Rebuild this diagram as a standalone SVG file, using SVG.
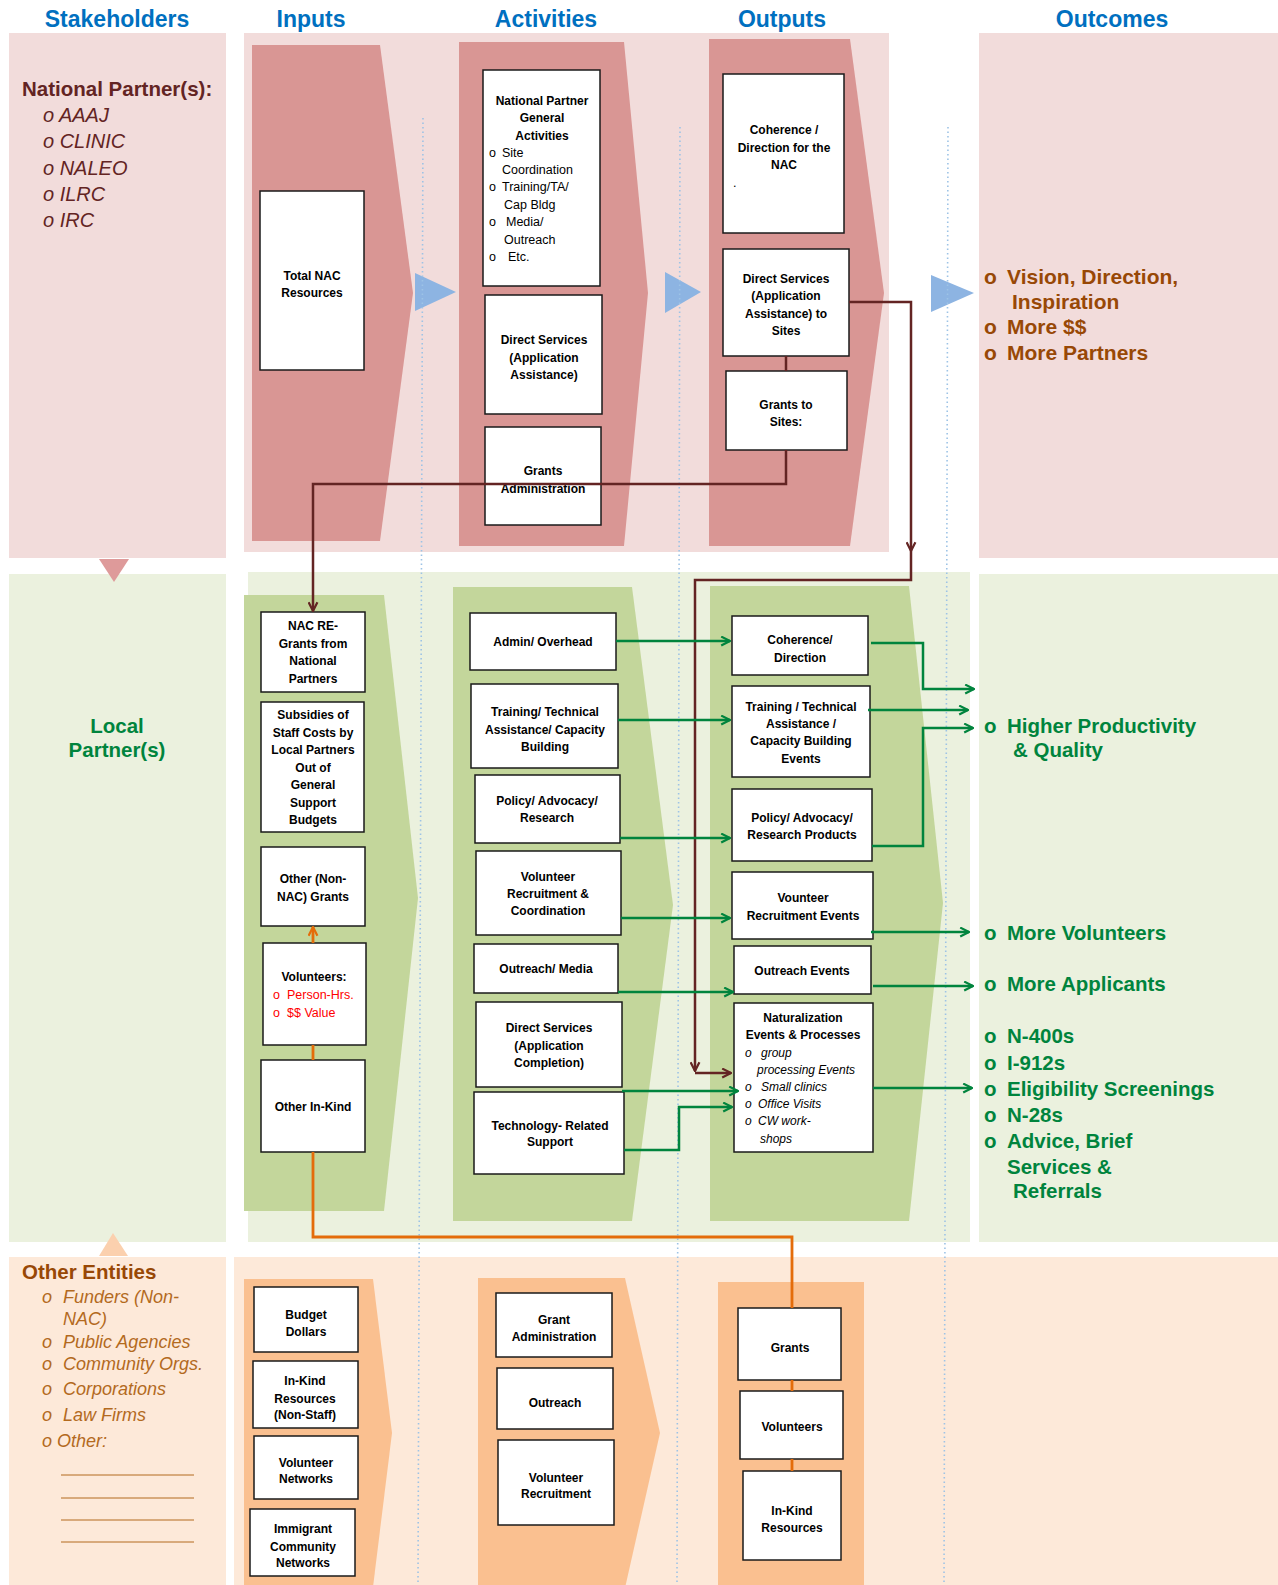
<svg xmlns="http://www.w3.org/2000/svg" width="1278" height="1585" viewBox="0 0 1278 1585">
<style>
.box{fill:#fff;stroke:#1a1a1a;stroke-width:1.5}
.bt{font-family:'Liberation Sans',Arial,sans-serif;font-size:12px;font-weight:bold;fill:#000;text-anchor:middle}
.bl{font-family:'Liberation Sans',Arial,sans-serif;font-size:12.5px;fill:#000}
.bi{font-family:'Liberation Sans',Arial,sans-serif;font-size:12px;font-style:italic;fill:#000}
.red{font-family:'Liberation Sans',Arial,sans-serif;font-size:12.5px;fill:#ff0000}
.title{font-family:'Liberation Sans',Arial,sans-serif;font-size:23px;font-weight:bold;fill:#0070C0;text-anchor:middle}
.np{font-family:'Liberation Sans',Arial,sans-serif;font-size:20.5px;font-weight:bold;fill:#632423}
.npi{font-family:'Liberation Sans',Arial,sans-serif;font-size:20px;font-style:italic;fill:#632423}
.oc1{font-family:'Liberation Sans',Arial,sans-serif;font-size:21px;font-weight:bold;fill:#984806}
.oc2{font-family:'Liberation Sans',Arial,sans-serif;font-size:20.5px;font-weight:bold;fill:#00843D}
.oe{font-family:'Liberation Sans',Arial,sans-serif;font-size:20.5px;font-weight:bold;fill:#984806}
.oei{font-family:'Liberation Sans',Arial,sans-serif;font-size:18px;font-style:italic;fill:#B36A1E}
.dot{fill:none;stroke:#9DC3E6;stroke-width:1.6;stroke-dasharray:1.5 3}
.g{fill:none;stroke:#00843D;stroke-width:2.5}
.r{fill:none;stroke:#632423;stroke-width:2.5}
.o{fill:none;stroke:#E46C0A;stroke-width:2.8}
</style>
<defs>
<marker id="ag" viewBox="0 0 10 10" refX="9" refY="5" markerWidth="11" markerHeight="11" markerUnits="userSpaceOnUse" orient="auto"><path d="M1,1 L9,5 L1,9" fill="none" stroke="#00843D" stroke-width="2"/></marker>
<marker id="ar" viewBox="0 0 10 10" refX="9" refY="5" markerWidth="11" markerHeight="11" markerUnits="userSpaceOnUse" orient="auto"><path d="M1,1 L9,5 L1,9" fill="none" stroke="#632423" stroke-width="2"/></marker>
<marker id="ao" viewBox="0 0 10 10" refX="9" refY="5" markerWidth="11" markerHeight="11" markerUnits="userSpaceOnUse" orient="auto"><path d="M1,1 L9,5 L1,9" fill="none" stroke="#E46C0A" stroke-width="2"/></marker>
</defs>

<!-- background panels -->
<g id="panels">
<rect x="9" y="33" width="217" height="525" fill="#F2DCDB"/>
<rect x="244" y="33" width="645" height="519" fill="#F2DCDB"/>
<rect x="979" y="33" width="299" height="525" fill="#F2DCDB"/>
<rect x="9" y="574" width="217" height="668" fill="#EBF1DE"/>
<rect x="248" y="572" width="722" height="670" fill="#EBF1DE"/>
<rect x="979" y="574" width="299" height="668" fill="#EBF1DE"/>
<rect x="9" y="1257" width="217" height="328" fill="#FDE9D9"/>
<rect x="234" y="1257" width="1044" height="328" fill="#FDE9D9"/>
<polygon points="252,45 380,45 413,293 380,541 252,541" fill="#D99694"/>
<polygon points="459,42 624,42 648,293 624,546 459,546" fill="#D99694"/>
<polygon points="709,39 850,39 884,293 850,546 709,546" fill="#D99694"/>
<polygon points="244,595 384,595 418,898 384,1211 244,1211" fill="#C3D69B"/>
<polygon points="453,587 632,587 673,905 632,1221 453,1221" fill="#C3D69B"/>
<polygon points="710,586 909,586 943,903 909,1221 710,1221" fill="#C3D69B"/>
<polygon points="244,1279 373,1279 392,1433 373,1587 244,1587" fill="#FAC090"/>
<polygon points="478,1278 625,1278 660,1433 625,1588 478,1588" fill="#FAC090"/>
<rect x="718" y="1282" width="146" height="303" fill="#FAC090"/>
<polygon points="415,273 456,292 415,311" fill="#8DB4E2"/>
<polygon points="665,272 701,292 665,313" fill="#8DB4E2"/>
<polygon points="931,275 974,293 931,312" fill="#8DB4E2"/>
<polygon points="99,559 129,559 114,582" fill="#DE9A9A"/>
<polygon points="99,1256 128,1256 113,1233" fill="#FBD0AE"/>
<path class="dot" d="M423,118 L418,1585"/>
<path class="dot" d="M680,127 L677,1585"/>
<path class="dot" d="M948,127 L944,1585"/>
</g>

<!-- titles and side texts -->
<g id="titles">
<text class="title" x="117" y="27">Stakeholders</text>
<text class="title" x="311" y="27">Inputs</text>
<text class="title" x="546" y="27">Activities</text>
<text class="title" x="782" y="27">Outputs</text>
<text class="title" x="1112" y="27">Outcomes</text>
</g>

<g id="national-partners">
<text class="np" x="22" y="96">National Partner(s):</text>
<text class="npi" x="43" y="122">o AAAJ</text>
<text class="npi" x="43" y="148">o CLINIC</text>
<text class="npi" x="43" y="175">o NALEO</text>
<text class="npi" x="43" y="201">o ILRC</text>
<text class="npi" x="43" y="227">o IRC</text>
</g>

<g id="local-partners">
<text class="oc2" x="117" y="733" text-anchor="middle">Local</text>
<text class="oc2" x="117" y="757" text-anchor="middle">Partner(s)</text>
</g>

<g id="other-entities">
<text class="oe" x="22" y="1279">Other Entities</text>
<text class="oei" x="42" y="1303">o</text><text class="oei" x="63" y="1303">Funders (Non-</text>
<text class="oei" x="63" y="1325">NAC)</text>
<text class="oei" x="42" y="1348">o</text><text class="oei" x="63" y="1348">Public Agencies</text>
<text class="oei" x="42" y="1370">o</text><text class="oei" x="63" y="1370">Community Orgs.</text>
<text class="oei" x="42" y="1395">o</text><text class="oei" x="63" y="1395">Corporations</text>
<text class="oei" x="42" y="1421">o</text><text class="oei" x="63" y="1421">Law Firms</text>
<text class="oei" x="42" y="1447">o Other:</text>
<path d="M61,1475 H194 M61,1498 H194 M61,1520 H194 M61,1542 H194" stroke="#B36A1E" stroke-width="1"/>
</g>

<g id="outcomes-national">
<text class="oc1" x="984" y="284">o</text><text class="oc1" x="1007" y="284">Vision, Direction,</text>
<text class="oc1" x="1012" y="309">Inspiration</text>
<text class="oc1" x="984" y="334">o</text><text class="oc1" x="1007" y="334">More $$</text>
<text class="oc1" x="984" y="360">o</text><text class="oc1" x="1007" y="360">More Partners</text>
</g>

<g id="outcomes-local">
<text class="oc2" x="984" y="733">o</text><text class="oc2" x="1007" y="733">Higher Productivity</text>
<text class="oc2" x="1013" y="757">&amp; Quality</text>
<text class="oc2" x="984" y="940">o</text><text class="oc2" x="1007" y="940">More Volunteers</text>
<text class="oc2" x="984" y="991">o</text><text class="oc2" x="1007" y="991">More Applicants</text>
<text class="oc2" x="984" y="1043">o</text><text class="oc2" x="1007" y="1043">N-400s</text>
<text class="oc2" x="984" y="1070">o</text><text class="oc2" x="1007" y="1070">I-912s</text>
<text class="oc2" x="984" y="1096">o</text><text class="oc2" x="1007" y="1096">Eligibility Screenings</text>
<text class="oc2" x="984" y="1122">o</text><text class="oc2" x="1007" y="1122">N-28s</text>
<text class="oc2" x="984" y="1148">o</text><text class="oc2" x="1007" y="1148">Advice, Brief</text>
<text class="oc2" x="1007" y="1174">Services &amp;</text>
<text class="oc2" x="1013" y="1198">Referrals</text>
</g>

<!-- top section nodes -->
<g id="total-nac"><rect class="box" x="260" y="191" width="104" height="179"/>
<text class="bt" x="312" y="280">Total NAC</text><text class="bt" x="312" y="297">Resources</text></g>

<g id="np-general"><rect class="box" x="483" y="70" width="117" height="216"/>
<text class="bt" x="542" y="105">National Partner</text>
<text class="bt" x="542" y="122">General</text>
<text class="bt" x="542" y="140">Activities</text>
<text class="bl" x="489" y="157">o</text><text class="bl" x="502" y="157">Site</text>
<text class="bl" x="502" y="174">Coordination</text>
<text class="bl" x="489" y="191">o</text><text class="bl" x="502" y="191">Training/TA/</text>
<text class="bl" x="504" y="209">Cap Bldg</text>
<text class="bl" x="489" y="226">o</text><text class="bl" x="506" y="226">Media/</text>
<text class="bl" x="504" y="244">Outreach</text>
<text class="bl" x="489" y="261">o</text><text class="bl" x="508" y="261">Etc.</text>
</g>

<g id="ds-assist"><rect class="box" x="485" y="295" width="117" height="119"/>
<text class="bt" x="544" y="344">Direct Services</text>
<text class="bt" x="544" y="362">(Application</text>
<text class="bt" x="544" y="379">Assistance)</text></g>

<g id="grants-admin"><rect class="box" x="485" y="427" width="116" height="98"/>
<text class="bt" x="543" y="475">Grants</text>
<text class="bt" x="543" y="493">Administration</text></g>

<g id="coherence-nac"><rect class="box" x="723" y="74" width="121" height="159"/>
<text class="bt" x="784" y="134">Coherence /</text>
<text class="bt" x="784" y="152">Direction for the</text>
<text class="bt" x="784" y="169">NAC</text>
<text class="bl" x="733" y="187" font-size="9">.</text></g>

<g id="ds-sites"><rect class="box" x="723" y="249" width="126" height="107"/>
<text class="bt" x="786" y="283">Direct Services</text>
<text class="bt" x="786" y="300">(Application</text>
<text class="bt" x="786" y="318">Assistance) to</text>
<text class="bt" x="786" y="335">Sites</text></g>

<g id="grants-sites"><rect class="box" x="726" y="371" width="121" height="79"/>
<text class="bt" x="786" y="409">Grants to</text>
<text class="bt" x="786" y="426">Sites:</text></g>

<!-- middle section nodes -->
<g id="nac-regrants"><rect class="box" x="261" y="612" width="104" height="80"/>
<text class="bt" x="313" y="630">NAC RE-</text>
<text class="bt" x="313" y="647.5">Grants from</text>
<text class="bt" x="313" y="665">National</text>
<text class="bt" x="313" y="682.5">Partners</text></g>

<g id="subsidies"><rect class="box" x="261" y="702" width="103" height="130"/>
<text class="bt" x="313" y="719">Subsidies of</text>
<text class="bt" x="313" y="736.5">Staff Costs by</text>
<text class="bt" x="313" y="754">Local Partners</text>
<text class="bt" x="313" y="771.5">Out of</text>
<text class="bt" x="313" y="789">General</text>
<text class="bt" x="313" y="806.5">Support</text>
<text class="bt" x="313" y="824">Budgets</text></g>

<g id="other-grants"><rect class="box" x="261" y="847" width="104" height="79"/>
<text class="bt" x="313" y="883">Other (Non-</text>
<text class="bt" x="313" y="901">NAC) Grants</text></g>

<g id="volunteers-in"><rect class="box" x="263" y="943" width="103" height="102"/>
<text class="bt" x="314" y="981">Volunteers:</text>
<text class="red" x="273" y="999">o</text><text class="red" x="287" y="999">Person-Hrs.</text>
<text class="red" x="273" y="1017">o</text><text class="red" x="287" y="1017">$$ Value</text></g>

<g id="other-inkind"><rect class="box" x="261" y="1060" width="104" height="92"/>
<text class="bt" x="313" y="1111">Other In-Kind</text></g>

<g id="admin-overhead"><rect class="box" x="470" y="613" width="146" height="57"/>
<text class="bt" x="543" y="646">Admin/ Overhead</text></g>

<g id="training-act"><rect class="box" x="471" y="684" width="147" height="84"/>
<text class="bt" x="545" y="716">Training/ Technical</text>
<text class="bt" x="545" y="733.5">Assistance/ Capacity</text>
<text class="bt" x="545" y="751">Building</text></g>

<g id="policy-act"><rect class="box" x="475" y="775" width="145" height="68"/>
<text class="bt" x="547" y="805">Policy/ Advocacy/</text>
<text class="bt" x="547" y="822">Research</text></g>

<g id="volunteer-act"><rect class="box" x="476" y="851" width="145" height="84"/>
<text class="bt" x="548" y="881">Volunteer</text>
<text class="bt" x="548" y="898">Recruitment &amp;</text>
<text class="bt" x="548" y="915">Coordination</text></g>

<g id="outreach-act"><rect class="box" x="474" y="944" width="144" height="49"/>
<text class="bt" x="546" y="973">Outreach/ Media</text></g>

<g id="ds-completion"><rect class="box" x="476" y="1002" width="146" height="85"/>
<text class="bt" x="549" y="1032">Direct Services</text>
<text class="bt" x="549" y="1050">(Application</text>
<text class="bt" x="549" y="1067">Completion)</text></g>

<g id="tech-support"><rect class="box" x="474" y="1092" width="150" height="82"/>
<text class="bt" x="550" y="1130">Technology- Related</text>
<text class="bt" x="550" y="1146">Support</text></g>

<g id="coherence-out"><rect class="box" x="732" y="616" width="136" height="59"/>
<text class="bt" x="800" y="644">Coherence/</text>
<text class="bt" x="800" y="662">Direction</text></g>

<g id="training-out"><rect class="box" x="732" y="686" width="138" height="91"/>
<text class="bt" x="801" y="711">Training / Technical</text>
<text class="bt" x="801" y="728">Assistance /</text>
<text class="bt" x="801" y="745">Capacity Building</text>
<text class="bt" x="801" y="763">Events</text></g>

<g id="policy-out"><rect class="box" x="732" y="789" width="140" height="72"/>
<text class="bt" x="802" y="822">Policy/ Advocacy/</text>
<text class="bt" x="802" y="839">Research Products</text></g>

<g id="volunteer-out"><rect class="box" x="732" y="872" width="141" height="67"/>
<text class="bt" x="803" y="902">Vounteer</text>
<text class="bt" x="803" y="920">Recruitment Events</text></g>

<g id="outreach-out"><rect class="box" x="734" y="946" width="137" height="48"/>
<text class="bt" x="802" y="975">Outreach Events</text></g>

<g id="naturalization"><rect class="box" x="734" y="1003" width="139" height="149"/>
<text class="bt" x="803" y="1022">Naturalization</text>
<text class="bt" x="803" y="1039">Events &amp; Processes</text>
<text class="bi" x="745" y="1057">o</text><text class="bi" x="761" y="1057">group</text>
<text class="bi" x="757" y="1074">processing Events</text>
<text class="bi" x="745" y="1091">o</text><text class="bi" x="761" y="1091">Small clinics</text>
<text class="bi" x="745" y="1108">o</text><text class="bi" x="758" y="1108">Office Visits</text>
<text class="bi" x="745" y="1125">o</text><text class="bi" x="758" y="1125">CW work-</text>
<text class="bi" x="760" y="1143">shops</text></g>

<!-- bottom section nodes -->
<g id="budget-dollars"><rect class="box" x="254" y="1287" width="104" height="65"/>
<text class="bt" x="306" y="1319">Budget</text>
<text class="bt" x="306" y="1336">Dollars</text></g>

<g id="inkind-nonstaff"><rect class="box" x="253" y="1361" width="105" height="67"/>
<text class="bt" x="305" y="1385">In-Kind</text>
<text class="bt" x="305" y="1403">Resources</text>
<text class="bt" x="305" y="1419">(Non-Staff)</text></g>

<g id="volunteer-networks"><rect class="box" x="254" y="1436" width="104" height="63"/>
<text class="bt" x="306" y="1467">Volunteer</text>
<text class="bt" x="306" y="1483">Networks</text></g>

<g id="immigrant-networks"><rect class="box" x="250" y="1509" width="105" height="67"/>
<text class="bt" x="303" y="1533">Immigrant</text>
<text class="bt" x="303" y="1551">Community</text>
<text class="bt" x="303" y="1567">Networks</text></g>

<g id="grant-admin-other"><rect class="box" x="496" y="1293" width="116" height="64"/>
<text class="bt" x="554" y="1324">Grant</text>
<text class="bt" x="554" y="1341">Administration</text></g>

<g id="outreach-other"><rect class="box" x="497" y="1368" width="116" height="61"/>
<text class="bt" x="555" y="1407">Outreach</text></g>

<g id="volunteer-recruit-other"><rect class="box" x="498" y="1440" width="116" height="85"/>
<text class="bt" x="556" y="1482">Volunteer</text>
<text class="bt" x="556" y="1498">Recruitment</text></g>

<g id="grants-out"><rect class="box" x="738" y="1308" width="103" height="72"/>
<text class="bt" x="790" y="1352">Grants</text></g>

<g id="volunteers-out"><rect class="box" x="740" y="1391" width="103" height="68"/>
<text class="bt" x="792" y="1431">Volunteers</text></g>

<g id="inkind-out"><rect class="box" x="743" y="1471" width="98" height="89"/>
<text class="bt" x="792" y="1515">In-Kind</text>
<text class="bt" x="792" y="1532">Resources</text></g>

<!-- connectors (drawn over nodes, as in the reference) -->
<g id="connectors">
<path class="r" d="M786,356 V371"/>
<path class="r" d="M786,450 V484 H313 V611" marker-end="url(#ar)"/>
<path class="r" d="M849,302 H911 V551" marker-end="url(#ar)"/>
<path class="r" d="M911,551 V580 H695 V1071" marker-end="url(#ar)"/>
<path class="r" d="M695,1073 H731" marker-end="url(#ar)"/>
<path class="g" d="M616,641 H730" marker-end="url(#ag)"/>
<path class="g" d="M618,720 H730" marker-end="url(#ag)"/>
<path class="g" d="M620,838 H730" marker-end="url(#ag)"/>
<path class="g" d="M621,918 H730" marker-end="url(#ag)"/>
<path class="g" d="M618,992 H733" marker-end="url(#ag)"/>
<path class="g" d="M622,1091 H738" marker-end="url(#ag)"/>
<path class="g" d="M624,1150 H679 V1107 H732" marker-end="url(#ag)"/>
<path class="g" d="M871,643 H923 V689 H974" marker-end="url(#ag)"/>
<path class="g" d="M868,710 H968" marker-end="url(#ag)"/>
<path class="g" d="M872,846 H923 V728 H973" marker-end="url(#ag)"/>
<path class="g" d="M871,932 H969" marker-end="url(#ag)"/>
<path class="g" d="M873,986 H973" marker-end="url(#ag)"/>
<path class="g" d="M873,1088 H972" marker-end="url(#ag)"/>
<path class="o" d="M313,943 V927" marker-end="url(#ao)"/>
<path class="o" d="M313,1045 V1060"/>
<path class="o" d="M313,1152 V1237 H792 V1308"/>
<path class="o" d="M792,1380 V1391"/>
<path class="o" d="M792,1459 V1471"/>
</g>
</svg>
